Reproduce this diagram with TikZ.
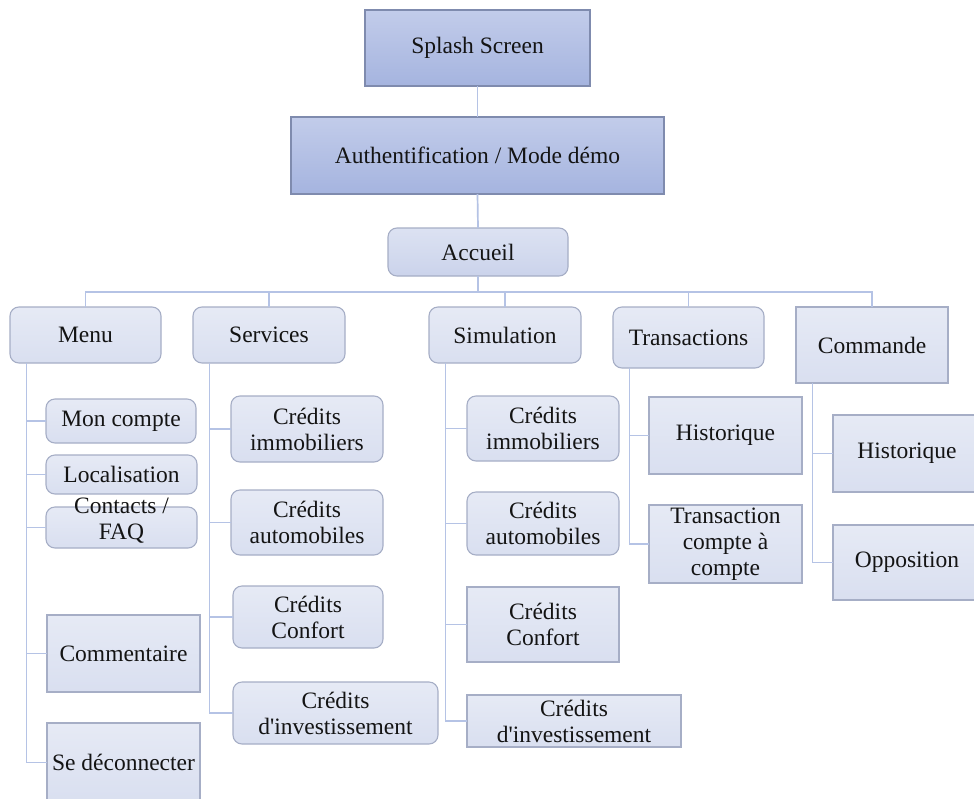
\documentclass[tikz,border=0pt]{standalone}
\usepackage{fontspec}
\setmainfont{Liberation Serif}[Ligatures=TeXOff]

\definecolor{wirecol}{HTML}{B5C3E5}
\definecolor{darkTop}{HTML}{C2CCEA}
\definecolor{darkBot}{HTML}{A5B4DF}
\definecolor{darkLine}{HTML}{7F8BAE}
\definecolor{paleTop}{HTML}{E6EAF5}
\definecolor{paleBot}{HTML}{D9DFF0}
\definecolor{paleLine}{HTML}{A6AEC6}
\definecolor{homeTop}{HTML}{DCE2F2}
\definecolor{homeBot}{HTML}{CBD3EB}
\definecolor{inkcol}{HTML}{141414}

\tikzset{
  box/.style={draw=paleLine, line width=1.1pt, top color=paleTop, bottom color=paleBot,
    inner sep=0pt, outer sep=0pt, align=center, text=inkcol,
    font=\fontsize{23.5}{26}\selectfont},
  roundbox/.style={box, rounded corners=9pt},
  headbox/.style={box, draw=darkLine, top color=darkTop, bottom color=darkBot},
  homebox/.style={roundbox, top color=homeTop, bottom color=homeBot},
  wire/.style={draw=wirecol, line width=1.7pt},
}

% \bx{name}{style}{x1}{y1}{x2}{y2}{text}: box given by its corners
\newcommand{\bx}[7]{%
  \node[#2, minimum width={(#5-#3)*1pt}, minimum height={(#6-#4)*1pt}]
    (#1) at ({(#3+#5)/2},{(#4+#6)/2}) {#7};}

\begin{document}
\begin{tikzpicture}[x=1pt, y=-1pt]
\clip (0,0) rectangle (974,798);
\fill[white] (0,0) rectangle (974,798);

% top of the tree
\bx{splash}{headbox}{365}{10}{590}{86}{Splash Screen}
\bx{auth}{headbox}{291}{117}{664}{194}{Authentification / Mode démo}
\bx{accueil}{homebox}{388}{228}{568}{276}{Accueil}

% main sections
\bx{menu}{roundbox}{10}{307}{161}{363}{Menu}
\bx{services}{roundbox}{193}{307}{345}{363}{Services}
\bx{simulation}{roundbox}{429}{307}{581}{363}{Simulation}
\bx{transactions}{roundbox}{613}{307}{764}{368}{Transactions}
\bx{commande}{box}{796}{307}{948}{383}{Commande}

% Menu entries
\bx{compte}{roundbox}{46}{399}{196}{443}{Mon compte}
\bx{localisation}{roundbox}{46}{455}{197}{494}{Localisation}
\bx{contacts}{roundbox}{46}{507}{197}{548}{\smash{\begin{tabular}{@{}c@{}}Contacts /\\FAQ\end{tabular}}}
\bx{commentaire}{box}{47}{615}{200}{692}{Commentaire}
\bx{deconnexion}{box}{47}{723}{200}{802}{Se déconnecter}

% Services entries
\bx{simmo}{roundbox}{231}{396}{383}{462}{Crédits\\immobiliers}
\bx{sauto}{roundbox}{231}{490}{383}{555}{Crédits\\automobiles}
\bx{sconfort}{roundbox}{233}{586}{383}{648}{Crédits\\Confort}
\bx{sinvest}{roundbox}{233}{682}{438}{744}{Crédits\\d'investissement}

% Simulation entries
\bx{mimmo}{roundbox}{467}{396}{619}{461}{Crédits\\immobiliers}
\bx{mauto}{roundbox}{467}{492}{619}{555}{Crédits\\automobiles}
\bx{mconfort}{box}{467}{587}{619}{662}{Crédits\\Confort}
\bx{minvest}{box}{467}{695}{681}{747}{Crédits\\d'investissement}

% Transactions entries
\bx{thisto}{box}{649}{397}{802}{474}{Historique}
\bx{tcompte}{box}{649}{505}{802}{583}{Transaction\\compte à\\compte}

% Commande entries
\bx{chisto}{box}{833}{415}{981}{492}{Historique}
\bx{opposition}{box}{833}{525}{981}{600}{Opposition}

% links between levels
\coordinate (bus) at (478,292);
\draw[wire] (splash.south) -- (auth.north);
\draw[wire] (auth.south) -- (accueil.north);
\draw[wire] (accueil.south) -- (bus);
\draw[wire] (menu.north) |- (bus) -| (commande.north);
\draw[wire] (services.north) -- (services.north |- bus);
\draw[wire] (simulation.north) -- (simulation.north |- bus);
\draw[wire] (transactions.north) -- (transactions.north |- bus);

% spines from each section to its entries
\foreach \sec/\kids in {menu/{compte,localisation,contacts,commentaire,deconnexion},
                        services/{simmo,sauto,sconfort,sinvest},
                        simulation/{mimmo,mauto,mconfort,minvest},
                        transactions/{thisto,tcompte},
                        commande/{chisto,opposition}}{
  \foreach \k in \kids {
    \draw[wire] ([xshift=16.5pt]\sec.south west) |- (\k.west);
  }
}
\end{tikzpicture}
\end{document}
